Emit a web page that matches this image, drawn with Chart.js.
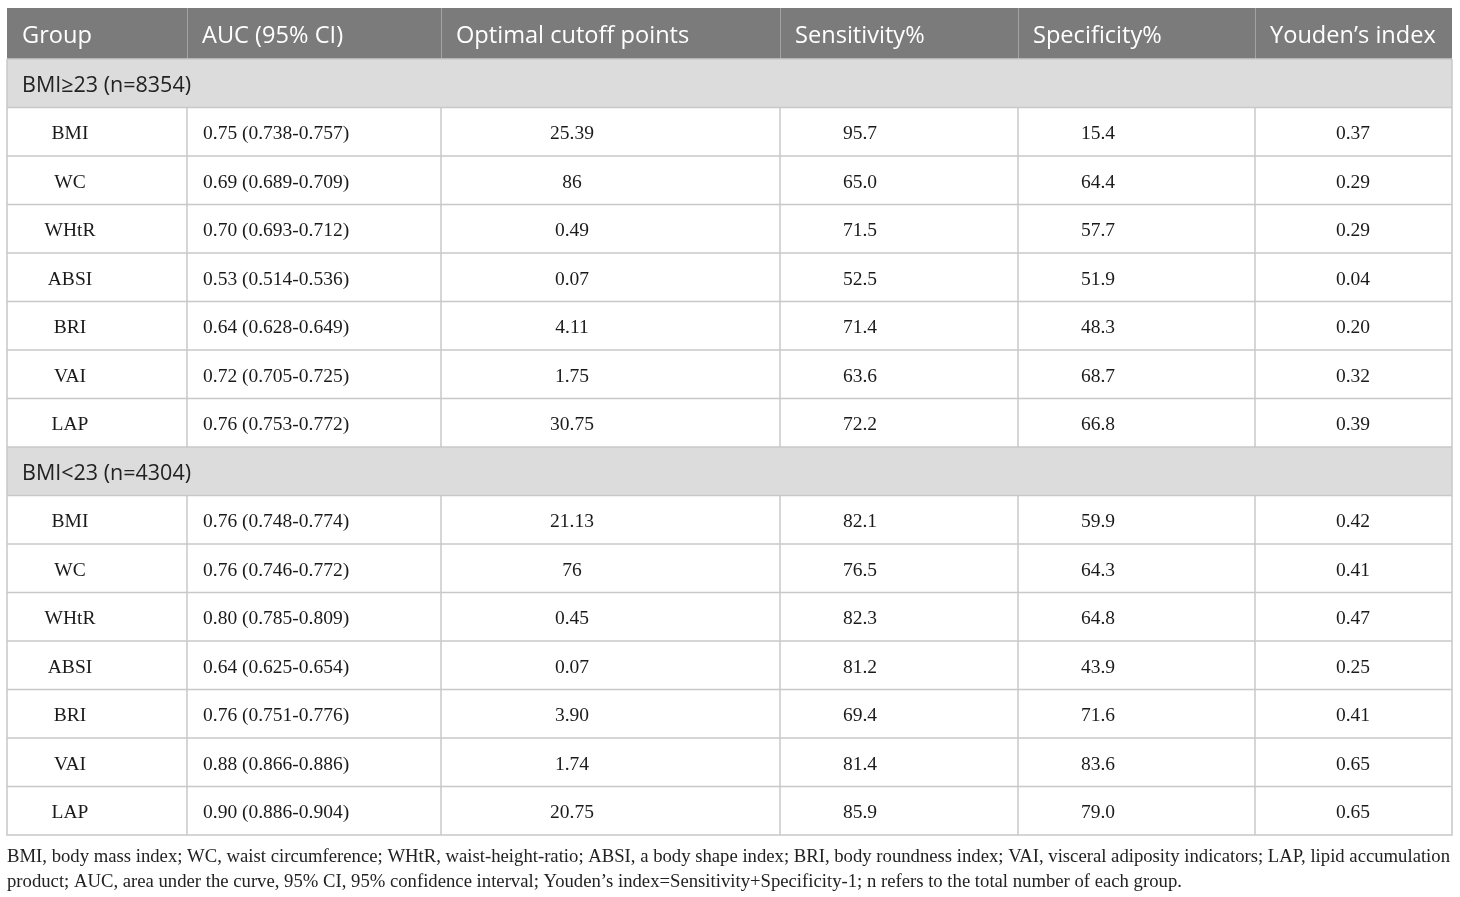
<!DOCTYPE html>
<html>
<head>
<meta charset="utf-8">
<title>AUC table</title>
<script src="https://cdn.jsdelivr.net/npm/chart.js@4.4.1/dist/chart.umd.min.js"></script>
<style>
  html, body { margin: 0; padding: 0; background: #ffffff; }
  #wrap { width: 1460px; height: 897px; }
</style>
</head>
<body>
<div id="wrap"><canvas id="tabela"></canvas></div>
<script>
// Dados da tabela
const cabecalho = ['Group', 'AUC (95% CI)', 'Optimal cutoff points', 'Sensitivity%', 'Specificity%', 'Youden\u2019s index'];
const grupos = ['BMI\u226523 (n=8354)', 'BMI<23 (n=4304)'];
const indicadores = ['BMI', 'WC', 'WHtR', 'ABSI', 'BRI', 'VAI', 'LAP'];

// BMI>=23
const aucAlto = [0.75, 0.69, 0.70, 0.53, 0.64, 0.72, 0.76];
const aucAltoMin = [0.738, 0.689, 0.693, 0.514, 0.628, 0.705, 0.753];
const aucAltoMax = [0.757, 0.709, 0.712, 0.536, 0.649, 0.725, 0.772];
const cutoffAlto = ['25.39', '86', '0.49', '0.07', '4.11', '1.75', '30.75'];
const sensAlto = [95.7, 65.0, 71.5, 52.5, 71.4, 63.6, 72.2];
const especAlto = [15.4, 64.4, 57.7, 51.9, 48.3, 68.7, 66.8];
const youdenAlto = [0.37, 0.29, 0.29, 0.04, 0.20, 0.32, 0.39];

// BMI<23
const aucBaixo = [0.76, 0.76, 0.80, 0.64, 0.76, 0.88, 0.90];
const aucBaixoMin = [0.748, 0.746, 0.785, 0.625, 0.751, 0.866, 0.886];
const aucBaixoMax = [0.774, 0.772, 0.809, 0.654, 0.776, 0.886, 0.904];
const cutoffBaixo = ['21.13', '76', '0.45', '0.07', '3.90', '1.74', '20.75'];
const sensBaixo = [82.1, 76.5, 82.3, 81.2, 69.4, 81.4, 85.9];
const especBaixo = [59.9, 64.3, 64.8, 43.9, 71.6, 83.6, 79.0];
const youdenBaixo = [0.42, 0.41, 0.47, 0.25, 0.41, 0.65, 0.65];

const rodape = [
    'BMI, body mass index; WC, waist circumference; WHtR, waist-height-ratio; ABSI, a body shape index; BRI, body roundness index; VAI, visceral adiposity indicators; LAP, lipid accumulation',
    'product; AUC, area under the curve, 95% CI, 95% confidence interval; Youden\u2019s index=Sensitivity+Specificity-1; n refers to the total number of each group.'
];

// Layout (unidades da escala)
const bordasColunas = [0, 180, 434, 773, 1011, 1248, 1445];
const centroTexto = [63, null, 565, 853, 1091, 1346];
const recuo = 15;
const alturaCabecalho = 51;
const alturaLinha = 48.5;
const ajusteY = 2.5;

function montarLinhas() {
    const linhas = [];
    const blocos = [
        [aucAlto, aucAltoMin, aucAltoMax, cutoffAlto, sensAlto, especAlto, youdenAlto],
        [aucBaixo, aucBaixoMin, aucBaixoMax, cutoffBaixo, sensBaixo, especBaixo, youdenBaixo]
    ];
    blocos.forEach((b, g) => {
        linhas.push({ tipo: 'grupo', texto: grupos[g] });
        indicadores.forEach((nome, i) => {
            linhas.push({
                tipo: 'dado',
                celulas: [
                    nome,
                    `${b[0][i].toFixed(2)} (${b[1][i].toFixed(3)}-${b[2][i].toFixed(3)})`,
                    b[3][i],
                    b[4][i].toFixed(1),
                    b[5][i].toFixed(1),
                    b[6][i].toFixed(2)
                ]
            });
        });
    });
    return linhas;
}

const linhas = montarLinhas();
const alturaTotal = alturaCabecalho + linhas.length * alturaLinha;

const desenharTabela = {
    id: 'desenharTabela',
    afterDraw(chart) {
        const { ctx, scales: { x, y } } = chart;
        const px = v => x.getPixelForValue(v);
        const py = v => y.getPixelForValue(v);
        const esq = px(0), dir = px(bordasColunas[bordasColunas.length - 1]);

        ctx.save();

        // Cabeçalho
        ctx.fillStyle = '#7b7b7b';
        ctx.fillRect(esq, py(0), dir - esq, py(alturaCabecalho) - py(0));
        ctx.strokeStyle = '#a3a3a3';
        ctx.lineWidth = 1;
        for (let c = 1; c < bordasColunas.length - 1; c++) {
            ctx.beginPath();
            ctx.moveTo(Math.round(px(bordasColunas[c])) + 0.5, py(0));
            ctx.lineTo(Math.round(px(bordasColunas[c])) + 0.5, py(alturaCabecalho));
            ctx.stroke();
        }
        ctx.fillStyle = '#ffffff';
        ctx.font = '23.6px "Open Sans", sans-serif';
        ctx.textBaseline = 'middle';
        ctx.textAlign = 'left';
        cabecalho.forEach((t, c) => {
            ctx.fillText(t, px(bordasColunas[c] + recuo), py(alturaCabecalho / 2) + ajusteY);
        });

        // Linhas
        linhas.forEach((linha, r) => {
            const topo = alturaCabecalho + r * alturaLinha;
            const y0 = py(topo), y1 = py(topo + alturaLinha);
            const meio = py(topo + alturaLinha / 2);
            if (linha.tipo === 'grupo') {
                ctx.fillStyle = '#dcdcdc';
                ctx.fillRect(esq, y0, dir - esq, y1 - y0);
                ctx.fillStyle = '#222222';
                ctx.font = '21.5px "Open Sans", sans-serif';
                ctx.textAlign = 'left';
                ctx.fillText(linha.texto, px(recuo), meio + ajusteY);
            } else {
                ctx.strokeStyle = '#c8c8c8';
                ctx.lineWidth = 1.5;
                for (let c = 1; c < bordasColunas.length - 1; c++) {
                    const xx = px(bordasColunas[c]);
                    ctx.beginPath();
                    ctx.moveTo(xx, y0);
                    ctx.lineTo(xx, y1);
                    ctx.stroke();
                }
                ctx.fillStyle = '#1a1a1a';
                ctx.font = '19.5px "Liberation Serif", "Times New Roman", serif';
                linha.celulas.forEach((t, c) => {
                    if (centroTexto[c] === null) {
                        ctx.textAlign = 'left';
                        ctx.fillText(t, px(bordasColunas[c] + recuo + 1), meio + ajusteY);
                    } else {
                        ctx.textAlign = 'center';
                        ctx.fillText(t, px(centroTexto[c]), meio + ajusteY);
                    }
                });
            }
            // linha horizontal
            ctx.strokeStyle = '#c8c8c8';
            ctx.lineWidth = 1.5;
            ctx.beginPath();
            ctx.moveTo(esq, y0);
            ctx.lineTo(dir, y0);
            ctx.stroke();
        });

        // Borda externa
        ctx.strokeStyle = '#c8c8c8';
        ctx.lineWidth = 1.5;
        ctx.beginPath();
        ctx.moveTo(esq, py(alturaCabecalho));
        ctx.lineTo(esq, py(alturaTotal));
        ctx.lineTo(dir, py(alturaTotal));
        ctx.lineTo(dir, py(alturaCabecalho));
        ctx.stroke();

        ctx.restore();
    }
};

new Chart(document.getElementById('tabela'), {
    type: 'scatter',
    data: { datasets: [{ data: [] }] },
    options: {
        responsive: true,
        maintainAspectRatio: false,
        animation: false,
        layout: { padding: { left: 7, right: 8, top: 8, bottom: 0 } },
        scales: {
            x: { type: 'linear', min: 0, max: bordasColunas[bordasColunas.length - 1], display: false },
            y: { type: 'linear', min: 0, max: alturaTotal, reverse: true, display: false }
        },
        plugins: {
            legend: { display: false },
            tooltip: { enabled: false },
            title: {
                display: true,
                position: 'bottom',
                align: 'start',
                text: rodape,
                color: '#222222',
                font: { family: '"Liberation Serif", "Times New Roman", serif', size: 18.7, weight: 'normal', lineHeight: '25px' },
                padding: { top: 10, bottom: 2 }
            }
        }
    },
    plugins: [desenharTabela]
});
</script>
</body>
</html>
